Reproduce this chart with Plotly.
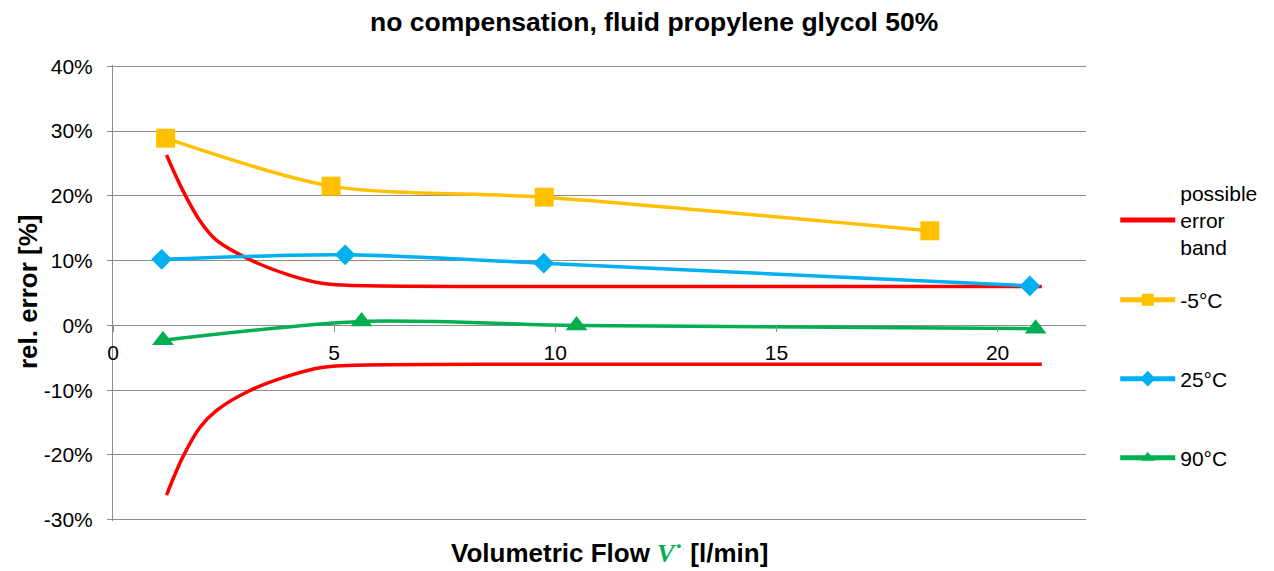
import plotly.graph_objects as go

# ---- data ----
band_x = [1.21, 1.58, 1.96, 2.33, 3.05, 3.97, 4.72, 5.3, 10, 21]
band_upper = [26.3, 20.8, 16.2, 13.2, 10.3, 7.8, 6.5, 6.2, 6.0, 6.0]
band_lower = [-26.2, -20.3, -15.8, -13.2, -10.2, -7.8, -6.5, -6.2, -6.0, -6.0]

m5_x = [1.19, 4.93, 9.75, 18.47]
m5_y = [28.9, 21.5, 19.8, 14.6]

p25_x = [1.10, 5.25, 9.74, 20.73]
p25_y = [10.2, 10.9, 9.6, 6.1]

p90_x = [1.13, 5.62, 10.48, 20.86]
p90_y = [-2.3, 0.6, 0.0, -0.5]

x_ticks = [0, 5, 10, 15, 20]
y_ticks = [-30, -20, -10, 0, 10, 20, 30, 40]

FONT = "Liberation Sans, Arial, sans-serif"
RED = "#FF0000"
YEL = "#FFC000"
BLU = "#00B0F0"
GRN = "#00B050"
GRID = "#8C8C8C"

Y_LO, Y_HI = -30.2, 40.2
# plot area (px): x 113..1087, y 65..521
PT, PB = 65, 521
PH = PB - PT

fig = go.Figure()
fig.add_trace(go.Scatter(x=band_x, y=band_upper, mode="lines", name="possible<br>error<br>band",
                         line=dict(color=RED, width=3.5, shape="spline", smoothing=1.0),
                         legend="legend"))
fig.add_trace(go.Scatter(x=band_x, y=band_lower, mode="lines", name="possible error band",
                         line=dict(color=RED, width=3.5, shape="spline", smoothing=1.0),
                         showlegend=False))
fig.add_trace(go.Scatter(x=m5_x, y=m5_y, mode="lines+markers", name="-5°C",
                         line=dict(color=YEL, width=3.5, shape="spline", smoothing=0.8),
                         marker=dict(symbol="square", size=19, color=YEL),
                         legend="legend2"))
fig.add_trace(go.Scatter(x=p25_x, y=p25_y, mode="lines+markers", name="25°C",
                         line=dict(color=BLU, width=3.5, shape="spline", smoothing=0.8),
                         marker=dict(symbol="diamond", size=16, color=BLU),
                         legend="legend3"))
fig.add_trace(go.Scatter(x=p90_x, y=p90_y, mode="lines+markers", name="90°C",
                         line=dict(color=GRN, width=3.5, shape="spline", smoothing=0.8),
                         marker=dict(symbol="triangle-up", size=19, color=GRN),
                         legend="legend4"))

def py(pix):
    return (PB - pix) / PH

def leg(pix):
    return dict(x=1.029, y=py(pix), xanchor="left", yanchor="middle", xref="paper", yref="paper",
                font=dict(family=FONT, size=21, color="#000"), bgcolor="rgba(0,0,0,0)",
                itemsizing="constant", itemwidth=55, valign="middle", tracegroupgap=0)

fig.update_layout(
    width=1274, height=571,
    margin=dict(l=113, r=187, t=PT, b=571 - PB),
    paper_bgcolor="white", plot_bgcolor="white",
    font=dict(family=FONT, size=21, color="#000"),
    showlegend=True,
    legend=leg(220), legend2=leg(300), legend3=leg(379), legend4=leg(458),
    xaxis=dict(range=[0, 22], tickvals=x_ticks, ticktext=[str(v) for v in x_ticks],
               showgrid=False, zeroline=False, showline=False,
               anchor="free", position=(0 - Y_LO) / (Y_HI - Y_LO),
               ticks="outside", ticklen=6, tickcolor=GRID, tickwidth=1,
               tickfont=dict(family=FONT, size=21, color="#000"), ticklabelstandoff=2),
    yaxis=dict(range=[Y_LO, Y_HI], tickvals=y_ticks, ticktext=[f"{v}%" for v in y_ticks],
               showgrid=True, gridcolor=GRID, gridwidth=1, zeroline=False,
               showline=True, linecolor=GRID, linewidth=1,
               ticks="outside", ticklen=5, tickcolor=GRID,
               tickfont=dict(family=FONT, size=21, color="#000"), ticklabelstandoff=10),
    annotations=[
        dict(text="<b>no compensation, fluid propylene glycol 50%</b>", xref="paper", yref="paper",
             x=(655 - 113) / 974, y=py(22), xanchor="center", yanchor="middle",
             showarrow=False, font=dict(family=FONT, size=26.5, color="#000")),
        dict(text="<b>rel. error [%]</b>", xref="paper", yref="paper", textangle=-90,
             x=(28 - 113) / 974, y=py(292), xanchor="center", yanchor="middle",
             showarrow=False, font=dict(family=FONT, size=26, color="#000")),
        dict(text="<b>Volumetric Flow <span style='color:#00B050;font-family:Liberation Serif'><i>V</i>˙</span> [l/min]</b>",
             xref="paper", yref="paper",
             x=(610 - 113) / 974, y=py(553), xanchor="center", yanchor="middle",
             showarrow=False, font=dict(family=FONT, size=26, color="#000")),
    ],
)

fig.write_html("out.html", config={"displayModeBar": False},
               post_script="document.body.style.margin='0';document.body.style.padding='0';")
